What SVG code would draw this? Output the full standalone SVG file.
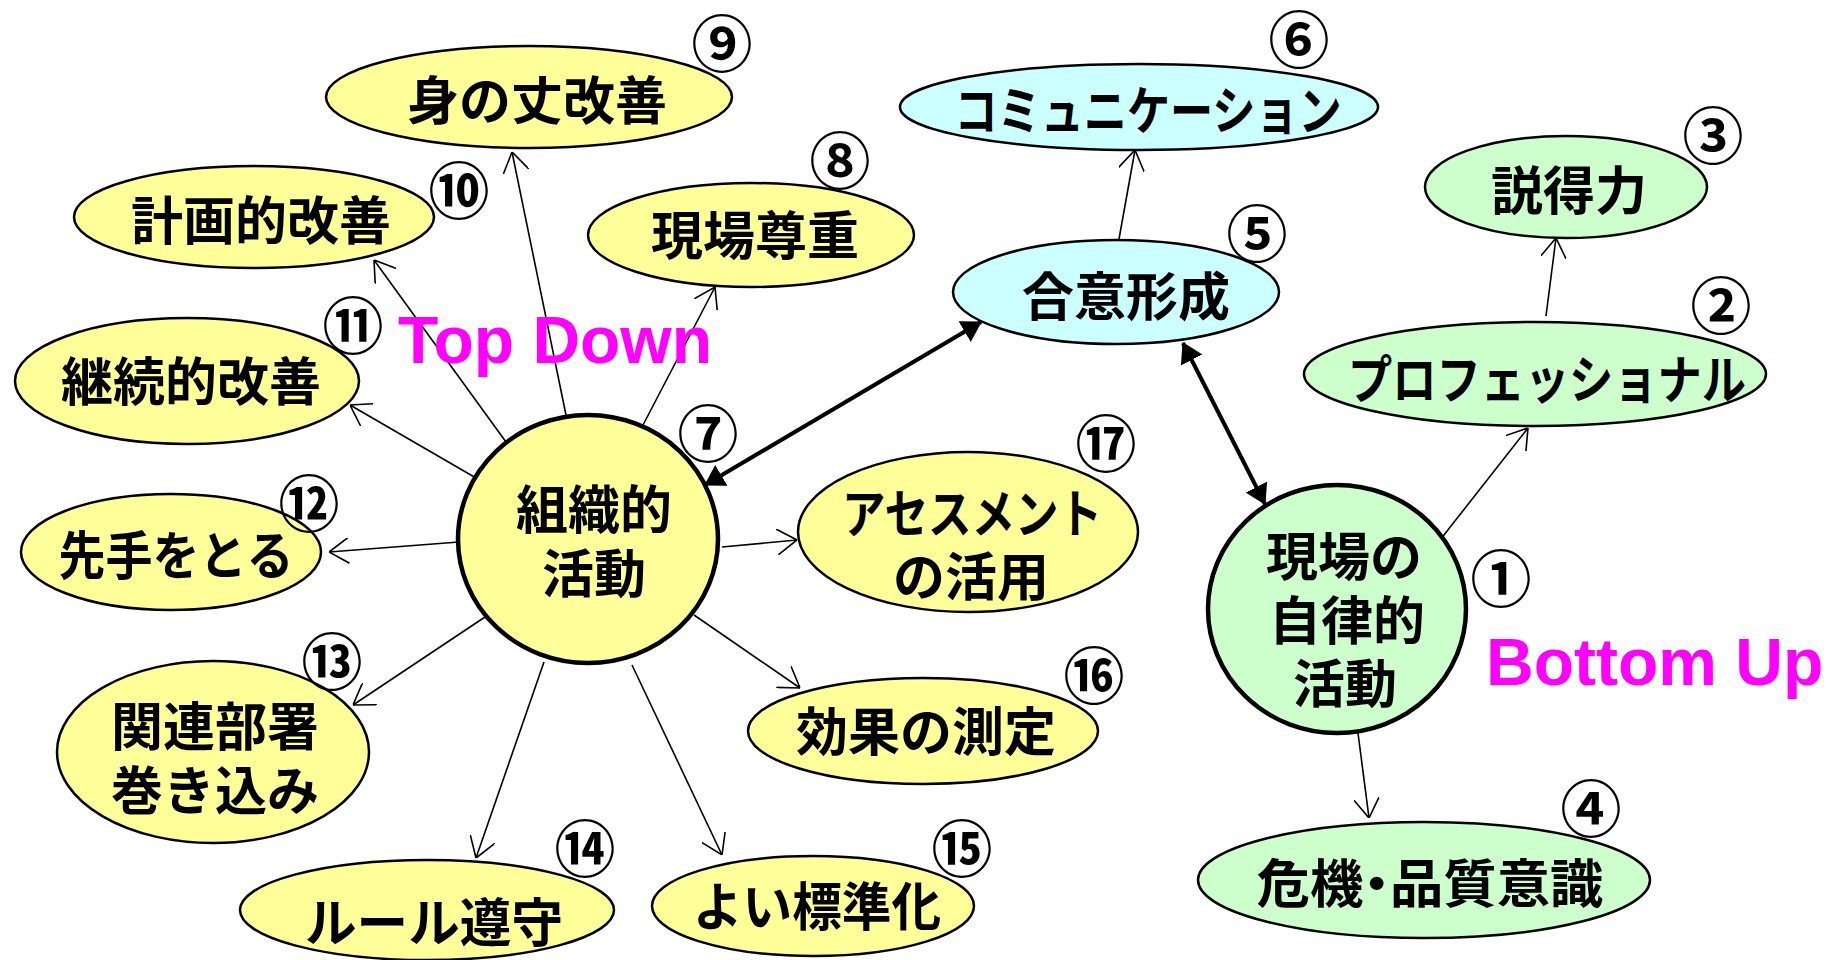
<svg xmlns="http://www.w3.org/2000/svg" width="1844" height="960" viewBox="0 0 1844 960">
<style>
.y{fill:#FFFF99;stroke:#000;stroke-width:2.5}
.c{fill:#CCFFFF;stroke:#000;stroke-width:2.5}
.g{fill:#CCFFCC;stroke:#000;stroke-width:2.5}
.big{stroke-width:4.5}
.t{font-family:"Noto Sans CJK JP","Noto Sans CJK SC",sans-serif;font-weight:bold;font-size:52px;fill:#000;text-anchor:middle;dominant-baseline:central}
.p{font-feature-settings:"palt"}
.n{font-family:"Noto Sans CJK JP","Noto Sans CJK SC",sans-serif;font-weight:bold;font-size:61px;fill:#000;text-anchor:middle;dominant-baseline:central}
.m{font-family:"Liberation Sans",Arial,sans-serif;font-weight:bold;font-size:66px;fill:#FF00FF}
.a{stroke:#000;stroke-width:1.6;fill:none;marker-end:url(#open)}
.d{stroke:#000;stroke-width:4;fill:none;marker-end:url(#fill);marker-start:url(#fill)}
</style>
<defs>
<marker id="open" viewBox="0 0 20 26" refX="20" refY="13" markerWidth="20" markerHeight="26" markerUnits="userSpaceOnUse" orient="auto"><path d="M0,0 L20,13 L0,26" fill="none" stroke="#000" stroke-width="1.6"/></marker>
<marker id="fill" viewBox="0 0 20 24" refX="19" refY="12" markerWidth="20" markerHeight="24" markerUnits="userSpaceOnUse" orient="auto-start-reverse"><path d="M0,0 L20,12 L0,24 z" fill="#000"/></marker>
</defs>
<rect width="1844" height="960" fill="#fff"/>
<g id="connectors">
<line class="a" x1="566" y1="415" x2="512" y2="152"/>
<line class="a" x1="506" y1="442" x2="374" y2="260"/>
<line class="a" x1="643" y1="425" x2="715" y2="287"/>
<line class="a" x1="476" y1="478" x2="350" y2="405"/>
<line class="a" x1="459" y1="542" x2="329" y2="552"/>
<line class="a" x1="722" y1="547" x2="797" y2="540"/>
<line class="a" x1="485" y1="617" x2="353" y2="705"/>
<line class="a" x1="544" y1="662" x2="476" y2="858"/>
<line class="a" x1="632" y1="665" x2="722" y2="855"/>
<line class="a" x1="694" y1="615" x2="800" y2="688"/>
<line class="d" x1="705" y1="485" x2="981" y2="322"/>
<line class="d" x1="1183" y1="343" x2="1265" y2="504"/>
<line class="a" x1="1119" y1="239" x2="1135" y2="150"/>
<line class="a" x1="1440" y1="540" x2="1528" y2="428"/>
<line class="a" x1="1546" y1="316" x2="1556" y2="238"/>
<line class="a" x1="1358" y1="733" x2="1369" y2="818"/>
</g>
<g id="n9"><ellipse class="y" cx="529" cy="97" rx="203" ry="51"/><text class="t" x="537" y="97">身の丈改善</text><text class="n" x="722" y="40">⑨</text></g>
<g id="n10"><ellipse class="y" cx="254" cy="217" rx="180" ry="51"/><text class="t" x="261" y="217">計画的改善</text><text class="n" x="459" y="187">⑩</text></g>
<g id="n8"><ellipse class="y" cx="751" cy="235" rx="163" ry="52"/><text class="t" x="755" y="232">現場尊重</text><text class="n" x="840" y="157">⑧</text></g>
<g id="n11"><ellipse class="y" cx="187" cy="381" rx="172" ry="63"/><text class="t" x="191" y="378">継続的改善</text><text class="n" x="353" y="322">⑪</text></g>
<g id="n12"><ellipse class="y" cx="171" cy="552" rx="150" ry="58"/><text class="t" x="176" y="552" textLength="235" lengthAdjust="spacingAndGlyphs">先手をとる</text><text class="n" x="309" y="500">⑫</text></g>
<g id="n13"><ellipse class="y" cx="213" cy="752" rx="156" ry="91"/><text class="t" x="215" y="723">関連部署</text><text class="t" x="215" y="787">巻き込み</text><text class="n" x="332" y="658">⑬</text></g>
<g id="n14"><ellipse class="y" cx="427" cy="910" rx="187" ry="50"/><text class="t" x="434" y="919" textLength="258" lengthAdjust="spacingAndGlyphs">ルール遵守</text><text class="n" x="585" y="845">⑭</text></g>
<g id="n15"><ellipse class="y" cx="813" cy="906" rx="161" ry="50"/><text class="t" x="817" y="903" textLength="248" lengthAdjust="spacingAndGlyphs">よい標準化</text><text class="n" x="962" y="845">⑮</text></g>
<g id="n16"><ellipse class="y" cx="923" cy="731" rx="175" ry="53"/><text class="t" x="926" y="728">効果の測定</text><text class="n" x="1094" y="672">⑯</text></g>
<g id="n17"><ellipse class="y" cx="968" cy="532" rx="170" ry="80"/><text class="t" x="972" y="510" font-size="48" textLength="260" lengthAdjust="spacingAndGlyphs">アセスメント</text><text class="t" x="971" y="573">の活用</text><text class="n" x="1106" y="440">⑰</text></g>
<g id="n7"><ellipse class="y big" cx="588" cy="539" rx="130" ry="124"/><text class="t" x="594" y="506">組織的</text><text class="t" x="594" y="570">活動</text><text class="n" x="708" y="430">⑦</text></g>
<g id="n5"><ellipse class="c" cx="1116" cy="292" rx="163" ry="52"/><text class="t" x="1126" y="293">合意形成</text><text class="n" x="1257" y="230">⑤</text></g>
<g id="n6"><ellipse class="c" cx="1139" cy="107" rx="239" ry="43"/><text class="t" x="1148" y="107" font-size="46" textLength="387" lengthAdjust="spacingAndGlyphs">コミュニケーション</text><text class="n" x="1299" y="36">⑥</text></g>
<g id="n3"><ellipse class="g" cx="1566" cy="187" rx="141" ry="51"/><text class="t" x="1569" y="187">説得力</text><text class="n" x="1713" y="132">③</text></g>
<g id="n2"><ellipse class="g" cx="1535" cy="374" rx="231" ry="52"/><text class="t" x="1547" y="376" font-size="48" textLength="398" lengthAdjust="spacingAndGlyphs">プロフェッショナル</text><text class="n" x="1721" y="302">②</text></g>
<g id="n1"><ellipse class="g big" cx="1337" cy="609" rx="129" ry="124"/><text class="t" x="1344" y="553">現場の</text><text class="t" x="1347" y="617">自律的</text><text class="t" x="1345" y="680">活動</text><text class="n" x="1501" y="575">①</text></g>
<g id="n4"><ellipse class="g" cx="1424" cy="880" rx="226" ry="58"/><text class="t p" x="1430" y="880" textLength="347" lengthAdjust="spacingAndGlyphs">危機・品質意識</text><text class="n" x="1591" y="805">④</text></g>
<g id="labels"><text class="m" x="398" y="363">Top Down</text><text class="m" x="1486" y="685">Bottom Up</text></g>
</svg>
